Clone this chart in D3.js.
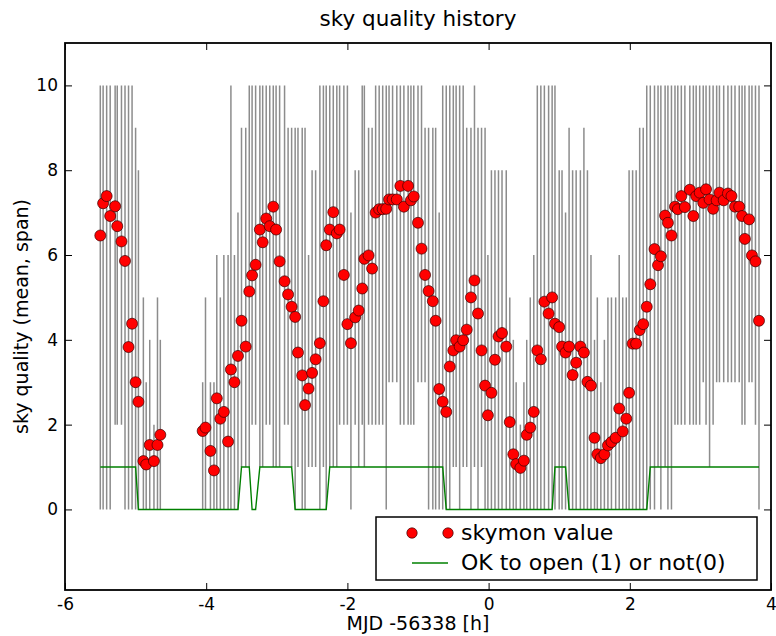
<!DOCTYPE html>
<html>
<head>
<meta charset="utf-8">
<script src="https://cdn.jsdelivr.net/npm/d3@7"></script>
<style>
  html, body { margin: 0; padding: 0; background: #ffffff; }
  svg { display: block; font-family: "DejaVu Sans", sans-serif; }
</style>
</head>
<body>
<svg id="chart" width="776" height="636"></svg>
<script>
// Hours relative to MJD 56338
const times = [
  -5.50, -5.46, -5.41, -5.36, -5.29, -5.26, -5.20, -5.15, -5.10, -5.05,
  -5.00, -4.96, -4.89, -4.85, -4.80, -4.74, -4.69, -4.65,
  -4.05, -4.01, -3.94, -3.89, -3.85, -3.80, -3.75, -3.69, -3.65, -3.60,
  -3.55, -3.50, -3.44, -3.39, -3.35, -3.30, -3.24, -3.20, -3.15, -3.10,
  -3.05, -3.01, -2.96, -2.89, -2.84, -2.79, -2.74, -2.70, -2.64, -2.60,
  -2.55, -2.50, -2.45, -2.39, -2.34, -2.30, -2.25, -2.20, -2.15, -2.11,
  -2.05, -2.00, -1.95, -1.89, -1.84, -1.79, -1.76, -1.70, -1.65, -1.60,
  -1.55, -1.50, -1.45, -1.41, -1.36, -1.30, -1.25, -1.20, -1.14, -1.10,
  -1.06, -1.00, -0.95, -0.90, -0.85, -0.79, -0.75, -0.70, -0.65, -0.60,
  -0.55, -0.50, -0.46, -0.41, -0.36, -0.31, -0.25, -0.20, -0.15, -0.10,
  -0.05, -0.01, 0.04, 0.09, 0.14, 0.19, 0.25, 0.30, 0.35, 0.39,
  0.45, 0.50, 0.54, 0.59, 0.64, 0.69, 0.74, 0.79, 0.85, 0.90,
  0.94, 1.00, 1.04, 1.09, 1.14, 1.19, 1.24, 1.30, 1.35, 1.40,
  1.45, 1.50, 1.54, 1.59, 1.64, 1.69, 1.74, 1.80, 1.85, 1.90,
  1.95, 1.99, 2.04, 2.09, 2.14, 2.19, 2.24, 2.29, 2.35, 2.40,
  2.44, 2.50, 2.54, 2.59, 2.64, 2.68, 2.73, 2.78, 2.85, 2.90,
  2.94, 2.99, 3.04, 3.08, 3.13, 3.18, 3.23, 3.27, 3.33, 3.39,
  3.44, 3.49, 3.55, 3.59, 3.63, 3.69, 3.73, 3.78, 3.83
];

// Mean sky quality per sample
const skymon = [
  6.46, 7.22, 7.39, 6.92, 7.15, 6.68, 6.32, 5.86, 3.83, 4.38,
  3.00, 2.54, 1.14, 1.06, 1.52, 1.14, 1.52, 1.76,
  1.85, 1.93, 1.38, 0.92, 2.62, 2.14, 2.30, 1.60, 3.30, 3.00,
  3.62, 4.45, 3.84, 5.14, 5.52, 5.77, 6.60, 6.30, 6.86, 6.68,
  7.14, 6.60, 5.85, 5.38, 5.07, 4.78, 4.54, 3.70, 3.16, 2.46,
  2.85, 3.22, 3.54, 3.92, 4.91, 6.23, 6.60, 7.01, 6.51, 6.60,
  5.53, 4.37, 3.92, 4.53, 4.69, 5.21, 5.91, 5.99, 5.68, 7.00,
  7.08, 7.08, 7.09, 7.31, 7.31, 7.31, 7.63, 7.14, 7.63, 7.29,
  7.38, 6.76, 6.15, 5.53, 5.15, 4.91, 4.45, 2.84, 2.54, 2.30,
  3.37, 3.75, 3.99, 3.84, 3.99, 4.24, 5.00, 5.40, 4.62, 3.75,
  2.92, 2.22, 2.75, 3.53, 4.08, 4.16, 3.84, 2.06, 1.30, 1.07,
  0.98, 1.15, 1.76, 1.93, 2.30, 3.75, 3.54, 4.90, 4.62, 5.00,
  4.38, 4.30, 3.84, 3.70, 3.84, 3.17, 3.46, 3.84, 3.70, 3.01,
  2.92, 1.69, 1.30, 1.21, 1.30, 1.51, 1.59, 1.69, 2.38, 1.84,
  2.14, 2.75, 3.91, 3.91, 4.23, 4.37, 4.78, 5.31, 6.14, 5.76,
  5.97, 6.93, 6.76, 6.46, 7.14, 7.08, 7.39, 7.13, 7.54, 6.92,
  7.39, 7.47, 7.23, 7.55, 7.31, 7.09, 7.29, 7.47, 7.29, 7.45,
  7.39, 7.14, 7.14, 6.92, 6.38, 6.84, 5.99, 5.85, 4.45
];

// Lowest reading inside each sample window
const spanLo = [
  0, 0, 0, 0, 2, 2, 2, 0, 0, 0,
  0, 0, 0, 0, 0, 0, 0, 0,
  0, 0, 0, 0, 0, 0, 0, 0, 0, 0,
  0, 1, 1, 1, 2, 2, 1, 1, 2, 2,
  1, 1, 1, 2, 2, 1, 0, 1, 0, 0,
  1, 1, 1, 0, 1, 0, 1, 1, 1, 2,
  2, 2, 0, 2, 1, 2, 1, 2, 2, 2,
  2, 2, 0, 3, 3, 3, 2, 2, 2, 2,
  2, 3, 3, 3, 0, 0, 0, 0, 0, 0,
  0, 1, 1, 0, 1, 1, 0, 1, 0, 1,
  0, 0, 0, 0, 0, 0, 0, 0, 0, 0,
  0, 0, 0, 0, 0, 0, 0, 0, 0, 0,
  0, 0, 0, 0, 0, 0, 0, 0, 0, 0,
  0, 0, 0, 0, 0, 0, 0, 0, 0, 0,
  0, 0, 0, 0, 0, 0, 0, 0, 0, 1,
  0, 1, 0, 0, 2, 2, 2, 2, 2, 2,
  2, 2, 3, 2, 1, 2, 3, 3, 3, 3,
  3, 3, 3, 2, 2, 3, 3, 2, 0
];

// Highest reading inside each sample window
const spanHi = [
  10, 10, 10, 10, 10, 10, 10, 10, 10, 10,
  9, 8, 5, 3, 4, 2, 5, 4,
  3, 5, 3, 3, 6, 5, 6, 6, 10, 6,
  7, 9, 9, 10, 10, 10, 10, 10, 10, 10,
  10, 10, 10, 10, 9, 9, 9, 9, 9, 9,
  6, 8, 8, 10, 10, 10, 10, 10, 10, 10,
  10, 10, 7, 8, 8, 10, 10, 9, 9, 10,
  10, 10, 10, 10, 10, 10, 10, 10, 10, 10,
  10, 10, 10, 9, 9, 9, 9, 7, 10, 10,
  10, 10, 10, 10, 10, 9, 9, 10, 9, 9,
  9, 6, 8, 8, 8, 8, 8, 5, 4, 3,
  2, 3, 4, 5, 6, 10, 10, 10, 10, 10,
  10, 8, 8, 7, 9, 8, 8, 8, 9, 8,
  6, 4, 5, 3, 4, 5, 5, 5, 6, 5,
  5, 8, 8, 8, 9, 9, 10, 10, 10, 10,
  10, 10, 10, 10, 10, 10, 10, 10, 10, 10,
  10, 10, 10, 10, 10, 10, 10, 10, 10, 10,
  10, 10, 10, 10, 10, 10, 10, 10, 10
];

// Dome status: 1 = OK to open, 0 = keep closed
const okFlag = [
  1, 1, 1, 1, 1, 1, 1, 1, 1, 1,
  1, 0, 0, 0, 0, 0, 0, 0,
  0, 0, 0, 0, 0, 0, 0, 0, 0, 0,
  0, 1, 1, 1, 0, 0, 1, 1, 1, 1,
  1, 1, 1, 1, 1, 1, 0, 0, 0, 0,
  0, 0, 0, 0, 0, 0, 1, 1, 1, 1,
  1, 1, 1, 1, 1, 1, 1, 1, 1, 1,
  1, 1, 1, 1, 1, 1, 1, 1, 1, 1,
  1, 1, 1, 1, 1, 1, 1, 1, 1, 0,
  0, 0, 0, 0, 0, 0, 0, 0, 0, 0,
  0, 0, 0, 0, 0, 0, 0, 0, 0, 0,
  0, 0, 0, 0, 0, 0, 0, 0, 0, 0,
  1, 1, 1, 1, 0, 0, 0, 0, 0, 0,
  0, 0, 0, 0, 0, 0, 0, 0, 0, 0,
  0, 0, 0, 0, 0, 0, 0, 1, 1, 1,
  1, 1, 1, 1, 1, 1, 1, 1, 1, 1,
  1, 1, 1, 1, 1, 1, 1, 1, 1, 1,
  1, 1, 1, 1, 1, 1, 1, 1, 1
];

const xTicks = [-6, -4, -2, 0, 2, 4];
const xTickLabels = ["-6", "-4", "-2", "0", "2", "4"];
const yTicks = [0, 2, 4, 6, 8, 10];
const yTickLabels = ["0", "2", "4", "6", "8", "10"];

const titleText = "sky quality history";
const xLabelText = "MJD -56338 [h]";
const yLabelText = "sky quality (mean, span)";
const legendLabels = ["skymon value", "OK to open (1) or not(0)"];

const samples = times.map((t, i) => ({
  t, mean: skymon[i], lo: spanLo[i], hi: spanHi[i], ok: okFlag[i]
}));

const svg = d3.select("#chart");
const plot = { left: 65, right: 771, top: 43, bottom: 590 };

const x = d3.scaleLinear().domain([-6, 4]).range([plot.left, plot.right]);
const y = d3.scaleLinear().domain([-1.9, 11]).range([plot.bottom, plot.top]);

svg.append("defs").append("clipPath").attr("id", "plotClip")
  .append("rect")
  .attr("x", plot.left).attr("y", plot.top)
  .attr("width", plot.right - plot.left).attr("height", plot.bottom - plot.top);

const layer = svg.append("g").attr("clip-path", "url(#plotClip)");

// span of each sample as a vertical gray bar
layer.append("g").selectAll("line").data(samples).join("line")
  .attr("x1", d => x(d.t)).attr("x2", d => x(d.t))
  .attr("y1", d => y(d.lo)).attr("y2", d => y(d.hi))
  .attr("stroke", "#8c8c8c").attr("stroke-width", 1.5);

// dome status line
layer.append("path").datum(samples)
  .attr("d", d3.line().x(d => x(d.t)).y(d => y(d.ok)))
  .attr("fill", "none").attr("stroke", "#008000").attr("stroke-width", 1.4);

// mean values
layer.append("g").selectAll("circle").data(samples).join("circle")
  .attr("cx", d => x(d.t)).attr("cy", d => y(d.mean)).attr("r", 5.5)
  .attr("fill", "#ff0000").attr("stroke", "#3a0000").attr("stroke-width", 0.7);

// axes with inward ticks on all four sides
const tickLen = 7;
const fmtX = (d, i) => xTickLabels[i];
const fmtY = (d, i) => yTickLabels[i];

const axB = svg.append("g").attr("transform", `translate(0,${plot.bottom})`)
  .call(d3.axisBottom(x).tickValues(xTicks).tickFormat(fmtX).tickSizeInner(-tickLen).tickSizeOuter(0).tickPadding(8));
const axT = svg.append("g").attr("transform", `translate(0,${plot.top})`)
  .call(d3.axisTop(x).tickValues(xTicks).tickFormat("").tickSizeInner(-tickLen).tickSizeOuter(0));
const axL = svg.append("g").attr("transform", `translate(${plot.left},0)`)
  .call(d3.axisLeft(y).tickValues(yTicks).tickFormat(fmtY).tickSizeInner(-tickLen).tickSizeOuter(0).tickPadding(7));
const axR = svg.append("g").attr("transform", `translate(${plot.right},0)`)
  .call(d3.axisRight(y).tickValues(yTicks).tickFormat("").tickSizeInner(-tickLen).tickSizeOuter(0));

[axB, axT, axL, axR].forEach(g => {
  g.select(".domain").remove();
  g.selectAll(".tick line").attr("stroke", "#000").attr("stroke-width", 1);
  g.selectAll(".tick text").attr("fill", "#000")
    .style("font-family", "'DejaVu Sans', sans-serif").style("font-size", "17px");
});

// frame
svg.append("rect")
  .attr("x", plot.left).attr("y", plot.top)
  .attr("width", plot.right - plot.left).attr("height", plot.bottom - plot.top)
  .attr("fill", "none").attr("stroke", "#000").attr("stroke-width", 1.8);

// titles
svg.append("text").attr("x", (plot.left + plot.right) / 2).attr("y", 26)
  .attr("text-anchor", "middle").style("font-size", "21.5px").text(titleText);
svg.append("text").attr("x", (plot.left + plot.right) / 2).attr("y", 630)
  .attr("text-anchor", "middle").style("font-size", "19px").text(xLabelText);
svg.append("text")
  .attr("transform", `translate(28,${(plot.top + plot.bottom) / 2}) rotate(-90)`)
  .attr("text-anchor", "middle").style("font-size", "19px").text(yLabelText);

// legend
const lg = svg.append("g");
lg.append("rect").attr("x", 376).attr("y", 517).attr("width", 381).attr("height", 63)
  .attr("fill", "#fff").attr("stroke", "#000").attr("stroke-width", 1.5);
[412, 448].forEach(cx => {
  lg.append("circle").attr("cx", cx).attr("cy", 533).attr("r", 5.2)
    .attr("fill", "#ff0000").attr("stroke", "#3a0000").attr("stroke-width", 0.7);
});
lg.append("line").attr("x1", 412).attr("x2", 448).attr("y1", 563).attr("y2", 563)
  .attr("stroke", "#008000").attr("stroke-width", 1.4);
lg.append("text").attr("x", 461).attr("y", 540).style("font-size", "22px").text(legendLabels[0]);
lg.append("text").attr("x", 461).attr("y", 570).style("font-size", "22px").text(legendLabels[1]);
</script>
</body>
</html>
